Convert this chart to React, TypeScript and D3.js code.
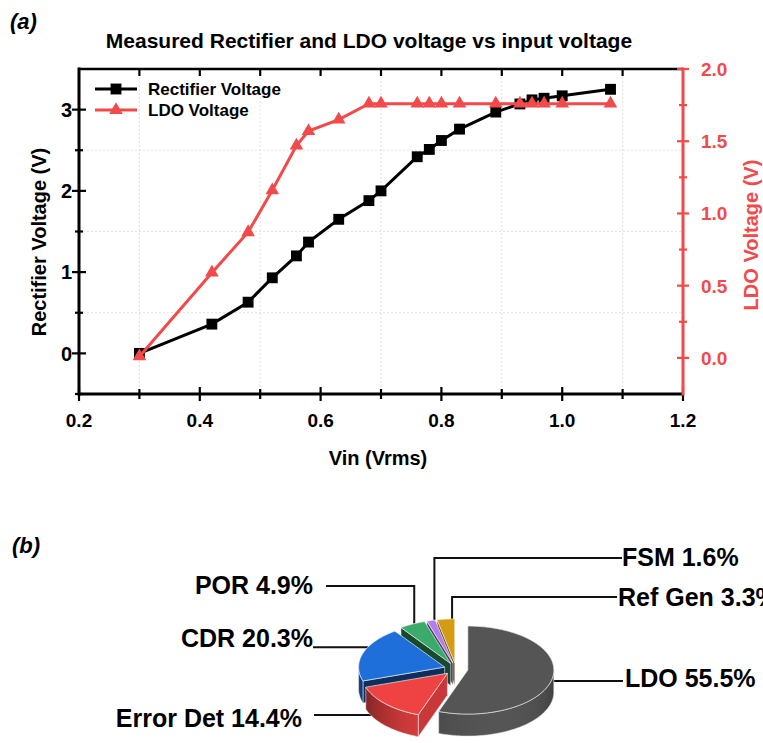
import React from "react";
import * as d3 from "d3";

// ---------- data: panel (a) ----------
const vin = [0.3, 0.42, 0.48, 0.52, 0.56, 0.58, 0.63, 0.68, 0.7, 0.76, 0.78, 0.8, 0.83, 0.89, 0.93, 0.95, 0.97, 1.0, 1.08];
const rectifierV = [0, 0.36, 0.63, 0.93, 1.2, 1.37, 1.65, 1.88, 2.0, 2.42, 2.51, 2.62, 2.76, 2.97, 3.07, 3.12, 3.14, 3.17, 3.25];
const ldoV = [0.01, 0.59, 0.87, 1.16, 1.47, 1.57, 1.65, 1.76, 1.76, 1.76, 1.76, 1.76, 1.76, 1.76, 1.76, 1.76, 1.76, 1.76, 1.76];
const seriesNames = ["Rectifier Voltage", "LDO Voltage"];
const xTicks = [0.2, 0.4, 0.6, 0.8, 1.0, 1.2];
const xMinorTicks = [0.3, 0.5, 0.7, 0.9, 1.1];
const leftTicks = [0, 1, 2, 3];
const leftMinorTicks = [-0.5, 0.5, 1.5, 2.5];
const rightTicks = [0, 0.5, 1.0, 1.5, 2.0];
const rightMinorTicks = [0.25, 0.75, 1.25, 1.75];

// ---------- data: panel (b) ----------
const blockNames = ["LDO", "Error Det", "CDR", "POR", "FSM", "Ref Gen"];
const blockShares = [55.5, 14.4, 20.3, 4.9, 1.6, 3.3];
const blockColors = ["#555555", "#ef4343", "#1f6fdb", "#3aab6b", "#b47de9", "#d49c10"];

// ---------- layout / style ----------
const FONT = "'Liberation Sans', Arial, Helvetica, sans-serif";
const RED = "#f24a4a";
const W = 763;
const H = 743;
const plot = { left: 79, right: 683, top: 69, bottom: 394 };
const P = { cx: 456, cy: 669, rx: 86, ry: 44, depth: 22, explode: 12 };

// label layout for each pie block (same order as blockNames)
const labelLayout = [
  { frac: 0.45, dz: 0.5, tx: 625, ty: 678, anchor: "start", kind: "h", lx: 623, ly: 0 },
  { frac: 0.5, dz: 0.5, tx: 302, ty: 718, anchor: "end", kind: "h", lx: 314, ly: 0 },
  { frac: 0.62, dz: 0, tx: 313, ty: 638, anchor: "end", kind: "h", lx: 313, ly: 0 },
  { frac: 0.58, dz: 0, tx: 313, ty: 585, anchor: "end", kind: "elbow", lx: 326, ly: 586 },
  { frac: 0.9, dz: 0, tx: 622, ty: 557, anchor: "start", kind: "elbow", lx: 622, ly: 558 },
  { frac: 0.85, dz: 0, tx: 618, ty: 597, anchor: "start", kind: "elbow", lx: 617, ly: 597 },
];

function shade(color: string, f: number) {
  return d3.interpolateRgb("#000000", color)(f);
}
const light = (t: number) => 0.55 + 0.45 * Math.max(0, Math.cos(t - (160 * Math.PI) / 180));

export default function App() {
  const x = d3.scaleLinear().domain([0.2, 1.2]).range([plot.left, plot.right]);
  const yL = d3.scaleLinear().domain([-0.5, 3.5]).range([plot.bottom, plot.top]);
  const yR = d3.scaleLinear().domain([-0.25, 2.0]).range([plot.bottom, plot.top]);

  const lineL = d3
    .line<number>()
    .x((_, i) => x(vin[i]))
    .y((d) => yL(d));
  const lineR = d3
    .line<number>()
    .x((_, i) => x(vin[i]))
    .y((d) => yR(d));
  const sq = d3.symbol(d3.symbolSquare, 118)() as string;
  const tri = d3.symbol(d3.symbolTriangle, 80)() as string;
  const topTicks = d3.range(1, 10).map((i) => 0.2 + i * 0.1);

  // ---------- 3D pie geometry ----------
  const arcs = d3
    .pie<number>()
    .sort(null)
    .startAngle(0)
    .endAngle(2 * Math.PI)(blockShares);

  const slices = arcs.map((a, i) => {
    const s = a.startAngle;
    const e = a.endAngle;
    const m = (s + e) / 2;
    const ax = P.cx + P.explode * Math.sin(m);
    const ay = P.cy - P.explode * Math.cos(m) * (P.ry / P.rx);
    const rim = (t: number, dz = 0): [number, number] => [ax + P.rx * Math.sin(t), ay - P.ry * Math.cos(t) + dz];
    const arcPts = (t0: number, t1: number, dz: number) => {
      const n = Math.max(2, Math.ceil(((t1 - t0) * 180) / Math.PI));
      return d3.range(n + 1).map((k) => rim(t0 + ((t1 - t0) * k) / n, dz));
    };
    const pts = (p: [number, number][]) => p.map((q) => q[0].toFixed(2) + "," + q[1].toFixed(2)).join(" L");
    const color = blockColors[i];
    const top = "M" + ax + "," + ay + " L" + pts(arcPts(s, e, 0)) + " Z";

    const walls: { d: string; fill: string }[] = [];
    if (Math.sin(s) < -1e-3) {
      const normalDeg = (s * 180) / Math.PI - 90;
      const f = normalDeg < 135 ? 0.84 : 0.42;
      const p1 = rim(s, 0);
      const p2 = rim(s, P.depth);
      walls.push({
        d: `M${ax},${ay} L${p1[0]},${p1[1]} L${p2[0]},${p2[1]} L${ax},${ay + P.depth} Z`,
        fill: shade(color, f),
      });
    }
    const lo = Math.max(s, Math.PI / 2);
    const hi = Math.min(e, (3 * Math.PI) / 2);
    let outer = "";
    let grad: { x1: number; x2: number; stops: { o: number; c: string }[] } | null = null;
    if (hi > lo) {
      const upper = arcPts(lo, hi, 0);
      const lower = arcPts(lo, hi, P.depth).reverse();
      outer = "M" + pts(upper) + " L" + pts(lower) + " Z";
      const x1 = rim(lo)[0];
      const x2 = rim(hi)[0];
      const stops = d3.range(13).map((k) => {
        const t = lo + ((hi - lo) * k) / 12;
        const o = Math.abs(x2 - x1) < 1e-6 ? 0 : (rim(t)[0] - x1) / (x2 - x1);
        return { o: Math.min(1, Math.max(0, o)), c: shade(color, light(t)) };
      });
      grad = { x1, x2, stops };
    }
    const L = labelLayout[i];
    const at = s + (e - s) * L.frac;
    const anchorPt = rim(at, P.depth * L.dz);
    return { i, m, top, walls, outer, grad, color, anchorPt, L };
  });

  const order = [...slices].sort((a, b) => -Math.cos(a.m) - -Math.cos(b.m));

  const tickFont = { fontFamily: FONT, fontWeight: 700 as const };

  return (
    <svg
      width={W}
      height={H}
      viewBox={`0 0 ${W} ${H}`}
      style={{ position: "absolute", left: 0, top: 0, background: "#fff" }}
    >
      <defs>
        {slices.map((s) =>
          s.grad ? (
            <linearGradient
              key={"g" + s.i}
              id={"wallGrad" + s.i}
              gradientUnits="userSpaceOnUse"
              x1={s.grad.x1}
              x2={s.grad.x2}
              y1={0}
              y2={0}
            >
              {s.grad.stops.map((st, k) => (
                <stop key={k} offset={st.o} stopColor={st.c} />
              ))}
            </linearGradient>
          ) : null
        )}
      </defs>
      <rect x={0} y={0} width={W} height={H} fill="#fff" />
      {/* ---------------- panel (a) ---------------- */}
      <text x={10} y={29} fontFamily={FONT} fontWeight={700} fontStyle="italic" fontSize={22}>
        (a)
      </text>
      <text x={369} y={48} textAnchor="middle" fontFamily={FONT} fontWeight={700} fontSize={21}>
        Measured Rectifier and LDO voltage vs input voltage
      </text>

      {/* grid */}
      <g stroke="#d9d9d9" strokeWidth={0.8} strokeDasharray="2,2">
        {xMinorTicks.map((v) => (
          <line key={"gx" + v} x1={x(v)} x2={x(v)} y1={plot.top} y2={plot.bottom} />
        ))}
        {leftMinorTicks
          .filter((v) => v > -0.5)
          .map((v) => (
            <line key={"gy" + v} x1={plot.left} x2={plot.right} y1={yL(v)} y2={yL(v)} />
          ))}
      </g>

      {/* series */}
      <path d={lineL(rectifierV) || ""} fill="none" stroke="#000" strokeWidth={3} />
      {rectifierV.map((v, i) => (
        <path key={"s" + i} d={sq} transform={`translate(${x(vin[i])},${yL(v)})`} fill="#000" />
      ))}
      <path d={lineR(ldoV) || ""} fill="none" stroke={RED} strokeWidth={3} />
      {ldoV.map((v, i) => (
        <path key={"t" + i} d={tri} transform={`translate(${x(vin[i])},${yR(v)})`} fill={RED} />
      ))}

      {/* axes */}
      <g stroke="#000" strokeWidth={3}>
        <line x1={plot.left} x2={plot.left} y1={plot.top - 1.5} y2={plot.bottom + 1.5} />
        <line x1={plot.left} x2={plot.right} y1={plot.bottom} y2={plot.bottom} />
        <line x1={plot.left} x2={plot.right} y1={plot.top} y2={plot.top} strokeWidth={2.5} />
      </g>
      <g stroke="#000" strokeWidth={2.2}>
        {xTicks.map((v) => (
          <line key={"xt" + v} x1={x(v)} x2={x(v)} y1={plot.bottom - 7} y2={plot.bottom + 7} />
        ))}
        {xMinorTicks.map((v) => (
          <line key={"xm" + v} x1={x(v)} x2={x(v)} y1={plot.bottom - 5} y2={plot.bottom + 5} />
        ))}
        {topTicks.map((v) => (
          <line key={"tt" + v} x1={x(v)} x2={x(v)} y1={plot.top} y2={plot.top + 7} />
        ))}
        {leftTicks.map((v) => (
          <line key={"lt" + v} x1={plot.left - 7} x2={plot.left + 7} y1={yL(v)} y2={yL(v)} />
        ))}
        {leftMinorTicks.map((v) => (
          <line key={"lm" + v} x1={plot.left - 4} x2={plot.left + 4} y1={yL(v)} y2={yL(v)} />
        ))}
      </g>
      <g stroke={RED} strokeWidth={3}>
        <line x1={plot.right} x2={plot.right} y1={plot.top - 1.5} y2={plot.bottom + 1.5} />
      </g>
      <g stroke={RED} strokeWidth={2.2}>
        {rightTicks.map((v) => (
          <line key={"rt" + v} x1={plot.right - 6} x2={plot.right + 6} y1={yR(v)} y2={yR(v)} />
        ))}
        {rightMinorTicks.map((v) => (
          <line key={"rm" + v} x1={plot.right - 4} x2={plot.right + 4} y1={yR(v)} y2={yR(v)} />
        ))}
      </g>

      {/* tick labels */}
      {xTicks.map((v) => (
        <text key={"xl" + v} x={x(v)} y={427} textAnchor="middle" fontSize={19} {...tickFont}>
          {v.toFixed(1)}
        </text>
      ))}
      {leftTicks.map((v) => (
        <text key={"yl" + v} x={72} y={yL(v)} dy="0.36em" textAnchor="end" fontSize={20} {...tickFont}>
          {v}
        </text>
      ))}
      {rightTicks.map((v) => (
        <text key={"yr" + v} x={701} y={yR(v)} dy="0.36em" textAnchor="start" fontSize={19} fill={RED} {...tickFont}>
          {v.toFixed(1)}
        </text>
      ))}

      {/* axis titles */}
      <text x={378} y={465} textAnchor="middle" fontSize={20} {...tickFont}>
        Vin (Vrms)
      </text>
      <text transform="translate(39,242) rotate(-90)" textAnchor="middle" dy="0.36em" fontSize={20} {...tickFont}>
        Rectifier Voltage (V)
      </text>
      <text
        transform="translate(751,235) rotate(-90)"
        textAnchor="middle"
        dy="0.36em"
        fontSize={20}
        fill={RED}
        {...tickFont}
      >
        LDO Voltage (V)
      </text>

      {/* legend */}
      <g>
        <line x1={95} x2={137} y1={89} y2={89} stroke="#000" strokeWidth={3} />
        <path d={sq} transform="translate(116,89)" fill="#000" />
        <text x={148} y={89} dy="0.36em" fontSize={17} {...tickFont}>
          {seriesNames[0]}
        </text>
        <line x1={95} x2={137} y1={110} y2={110} stroke={RED} strokeWidth={3} />
        <path d={tri} transform="translate(116,110)" fill={RED} />
        <text x={148} y={110} dy="0.36em" fontSize={17} {...tickFont}>
          {seriesNames[1]}
        </text>
      </g>

      {/* ---------------- panel (b) ---------------- */}
      <text x={12} y={553} fontFamily={FONT} fontWeight={700} fontStyle="italic" fontSize={22}>
        (b)
      </text>

      {/* leader lines */}
      <g stroke="#111" strokeWidth={2} fill="none">
        {slices.map((s) => {
          const [ax, ay] = s.anchorPt;
          const L = s.L;
          const d =
            L.kind === "elbow"
              ? `M${ax},${ay} L${ax},${L.ly} L${L.lx},${L.ly}`
              : `M${L.lx},${ay} L${ax},${ay}`;
          return <path key={"ll" + s.i} d={d} />;
        })}
      </g>

      {/* 3D pie */}
      {order.map((s) => (
        <g key={"sl" + s.i}>
          {s.walls.map((w, k) => (
            <path key={"w" + k} d={w.d} fill={w.fill} stroke="#e6e6e6" strokeWidth={0.7} strokeOpacity={0.8} />
          ))}
          {s.outer && (
            <path
              d={s.outer}
              fill={`url(#wallGrad${s.i})`}
              stroke="#e6e6e6"
              strokeWidth={0.7}
              strokeOpacity={0.8}
            />
          )}
          <path d={s.top} fill={s.color} stroke="#efefef" strokeWidth={0.8} strokeOpacity={0.85} />
        </g>
      ))}

      {/* pie labels */}
      {slices.map((s) => (
        <text
          key={"pl" + s.i}
          x={s.L.tx}
          y={s.L.ty}
          dy="0.36em"
          textAnchor={s.L.anchor as any}
          fontSize={25}
          {...tickFont}
        >
          {blockNames[s.i] + " " + blockShares[s.i].toFixed(1) + "%"}
        </text>
      ))}
    </svg>
  );
}
